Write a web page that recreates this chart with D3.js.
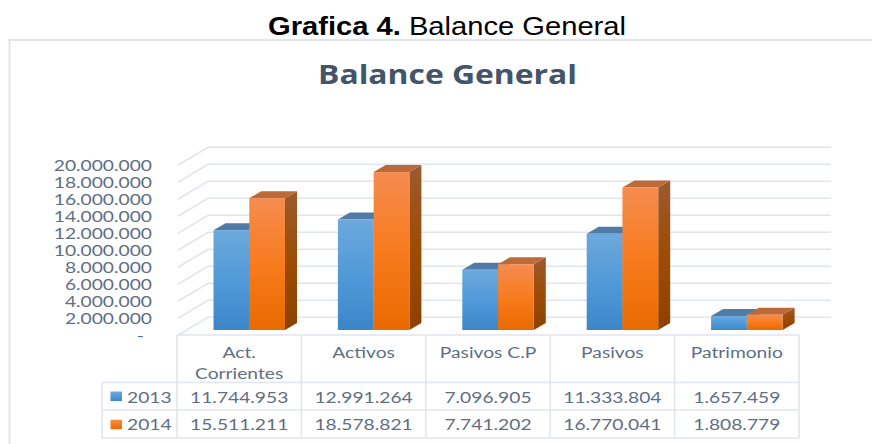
<!DOCTYPE html>
<html><head><meta charset="utf-8">
<script src="https://cdn.jsdelivr.net/npm/d3@7/dist/d3.min.js"></script>
<style>html,body{margin:0;padding:0;background:#fff}svg{display:block}</style>
</head><body><svg id="c" width="872" height="444"></svg>
<script>
const categories = ["Act. Corrientes","Activos","Pasivos C.P","Pasivos","Patrimonio"];
const categoryLines = [["Act.","Corrientes"],["Activos"],["Pasivos C.P"],["Pasivos"],["Patrimonio"]];
const seriesNames = ["2013","2014"];
const values2013 = [11744953,12991264,7096905,11333804,1657459];
const values2014 = [15511211,18578821,7741202,16770041,1808779];
const yTicks = [0,2e6,4e6,6e6,8e6,10e6,12e6,14e6,16e6,18e6,20e6];

const seriesValues = [values2013, values2014];
const svg = d3.select("#c");
const ink = "#5f6e85", rule = "#e1e5ee";
const wide = (sel,k) => sel.each(function(){
  this.setAttribute("textLength", this.getComputedTextLength()*k);
  this.setAttribute("lengthAdjust","spacingAndGlyphs");
});

const y = d3.scaleLinear().domain([0,20e6]).range([330,160]);
const x = d3.scaleBand().domain(categories).range([177,799]);
const xs = d3.scaleBand().domain(seriesNames).range([0,71.5]);
const barInset = 36.5, dBar = {x:12,y:-7};
const wall = {left:208,right:831,dy:-12.7}, floor = {left:178,dy:5.3};

const defs = svg.append("defs");
const grads = [
  {id:"g2013",stops:[["0%","#6da9dd"],["55%","#4f98d8"],["100%","#3c86c8"]]},
  {id:"g2014",stops:[["0%","#f58c50"],["50%","#f87b1e"],["100%","#e76b00"]]},
  {id:"s2014",stops:[["0%","#9b5a2e"],["50%","#9d4c05"],["100%","#8d4100"]]},
  {id:"s2013",stops:[["0%","#4f7ba6"],["100%","#3a6a98"]]}
];
grads.forEach(g=>{
  const lg = defs.append("linearGradient").attr("id",g.id).attr("x1",0).attr("y1",0).attr("x2",0).attr("y2",1);
  g.stops.forEach(s=>lg.append("stop").attr("offset",s[0]).attr("stop-color",s[1]));
});

// frame
svg.append("path").attr("d","M872,40H9.5V444").attr("fill","none").attr("stroke",rule).attr("stroke-width",2);

// titles
svg.append("text").attr("x",268).attr("y",35).attr("font-family","Liberation Sans").attr("font-size",26.5)
  .attr("fill","#000").attr("textLength",358).attr("lengthAdjust","spacingAndGlyphs")
  .call(t=>{t.append("tspan").attr("font-weight","bold").text("Grafica 4. ");t.append("tspan").text("Balance General");});
svg.append("text").attr("x",318).attr("y",84).attr("font-family","Open Sans").attr("font-weight",700).attr("font-size",27)
  .attr("fill","#44546a").attr("textLength",259).attr("lengthAdjust","spacingAndGlyphs").text("Balance General");

// grid
yTicks.forEach(t=>{
  const yy = y(t);
  svg.append("polyline").attr("fill","none").attr("stroke",rule).attr("stroke-width",1.6)
    .attr("points",[[floor.left,yy+floor.dy],[wall.left,yy+wall.dy],[wall.right,yy+wall.dy]].join(" "));
});

// y axis
const fmt = v => v===0 ? "-" : d3.format(",")(v).replace(/,/g,".");
const yAxis = svg.append("g").attr("transform","translate(152,5.8)")
  .call(d3.axisLeft(y).tickValues(yTicks).tickFormat(fmt).tickSize(0).tickPadding(0));
yAxis.select(".domain").remove();
yAxis.selectAll("text").attr("font-family","Lato").attr("font-size",15.5).attr("fill",ink).call(wide,1.24);
yAxis.selectAll("text").filter(d=>d===0).attr("dx",-8);

// bars
const bars = svg.append("g");
categories.forEach((c,i)=>{
  seriesNames.forEach(s=>{
    const k = seriesNames.indexOf(s), v = seriesValues[k][i];
    const x0 = x(c)+barInset+xs(s), x1 = x0+xs.bandwidth(), y0 = y(v), yb = y(0);
    const g = bars.append("g");
    g.append("path").attr("fill",`url(#s${s})`)
      .attr("d",`M${x1},${y0}L${x1+dBar.x},${y0+dBar.y}V${yb+dBar.y}L${x1},${yb}Z`);
    g.append("path").attr("fill",s==="2013"?"#4f7ba6":"#bb6a38")
      .attr("d",`M${x0},${y0}L${x0+dBar.x},${y0+dBar.y}H${x1+dBar.x}L${x1},${y0}Z`);
    g.append("rect").attr("x",x0).attr("y",y0).attr("width",xs.bandwidth()).attr("height",yb-y0)
      .attr("fill",`url(#g${s})`);
  });
});

// data table
const rows = [335,382.5,410,438];
const tbl = svg.append("g").attr("fill","none").attr("stroke",rule).attr("stroke-width",1.6);
tbl.append("path").attr("d",`M177,${rows[0]}H799`);
rows.slice(1).forEach(r=>tbl.append("path").attr("d",`M102,${r}H799`));
x.domain().concat(["end"]).forEach((c,i)=>{
  const xx = c==="end" ? x.range()[1] : x(c);
  tbl.append("path").attr("d",`M${xx},${rows[0]}V${rows[3]}`);
});
tbl.append("path").attr("d",`M102,${rows[1]}V${rows[3]}`);

const cellText = (sel)=>sel.attr("font-family","Lato").attr("font-size",15.5).attr("fill",ink).attr("text-anchor","middle");
categories.forEach((c,i)=>{
  categoryLines[i].forEach((l,j)=>{
    svg.append("text").attr("x",x(c)+x.bandwidth()/2).attr("y",357.5+j*21).text(l).call(cellText).call(wide,1.24);
  });
  seriesValues.forEach((vals,k)=>{
    svg.append("text").attr("x",x(c)+x.bandwidth()/2).attr("y",402.5+k*27.8).text(fmt(vals[i])).call(cellText).call(wide,1.24);
  });
});
seriesNames.forEach((s,k)=>{
  const yy = 391.5+k*28.2;
  svg.append("rect").attr("x",110.5).attr("y",yy).attr("width",11.5).attr("height",9.5).attr("fill",`url(#g${s})`);
  svg.append("text").attr("x",127).attr("y",402.5+k*27.8).attr("font-family","Lato").attr("font-size",15.5).attr("fill",ink).text(s).call(wide,1.24);
});
</script></body></html>
